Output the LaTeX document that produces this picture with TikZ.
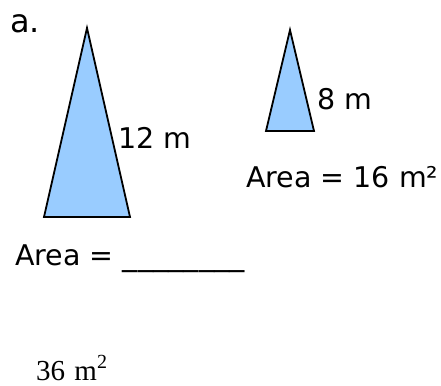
\documentclass[tikz,border=0pt]{standalone}
\usepackage{fontspec}
\setmainfont{DejaVu Sans}
\newfontfamily\answerfont{Liberation Serif}
\usepackage{xcolor}
\definecolor{triblue}{RGB}{153,204,255}

\tikzset{
  tri/.style={fill=triblue, draw=black, line width=1.8pt, line join=miter},
  lbl/.style={anchor=base west, inner sep=0pt, font=\fontsize{28.5}{34}\selectfont},
  ans/.style={anchor=base west, inner sep=0pt, font=\answerfont\fontsize{29}{34}\selectfont}
}

\begin{document}
\begin{tikzpicture}[x=1pt, y=-1pt]
\useasboundingbox (0,0) rectangle (441,385);
\draw[tri] (87,28) -- (44,217) -- (130,217) -- cycle;
\draw[tri] (290,30) -- (266,131) -- (314,131) -- cycle;
\node[lbl, font=\fontsize{32}{38}\selectfont] (part) at (10,33) {a.};
\node[lbl] (side1) at (118,148) {12 m};
\node[lbl] (side2) at (317,110) {8 m};
\node[lbl] (area2) at (246,187) {Area = 16 m²};
\node[lbl] (area1) at (15,265) {Area = {\fontsize{30.5}{34}\selectfont\_\_\_\_\_\_\_\_}};
\node[ans] (answer) at (36,380) {36 \hspace{2pt}m\raisebox{12pt}{\fontsize{20}{21}\selectfont 2}};
\end{tikzpicture}
\end{document}
